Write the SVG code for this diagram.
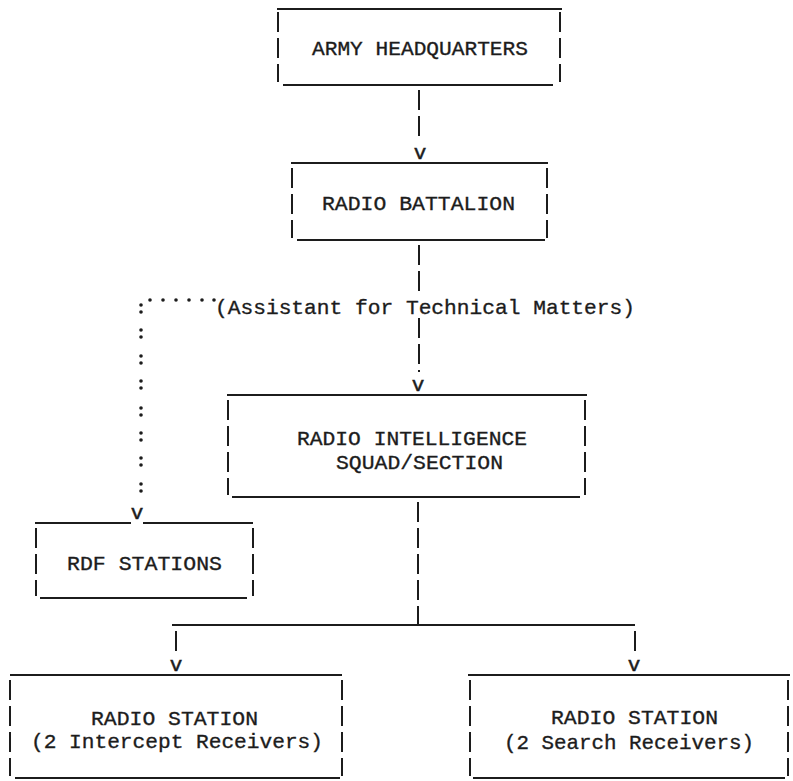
<svg xmlns="http://www.w3.org/2000/svg" width="793" height="781" viewBox="0 0 793 781">
<style>
.h{stroke:#1c1c1c;stroke-width:2;fill:none}
.v{stroke:#1c1c1c;stroke-width:2;fill:none;stroke-dasharray:20 6}
.t{font-family:"Liberation Mono",monospace;font-size:21px;fill:#1c1c1c;stroke:#1c1c1c;stroke-width:0.35}
.a{font-family:"Liberation Mono",monospace;font-size:21px;fill:#1c1c1c;stroke:#1c1c1c;stroke-width:0.5;text-anchor:middle}
.d{fill:#1c1c1c}
</style>
<rect width="793" height="781" fill="#ffffff"/>
<g id="connectors">
<line class="v" x1="419" y1="90" x2="419" y2="137"/>
<text class="a" x="420" y="159">v</text>
<line class="v" x1="419" y1="245" x2="419" y2="294"/>
<line class="v" x1="419" y1="318" x2="419" y2="372"/>
<text class="a" x="418" y="391">v</text>
<g id="dotted">
<circle class="d" cx="150" cy="300" r="1.8"/><circle class="d" cx="163" cy="300" r="1.8"/><circle class="d" cx="176" cy="300" r="1.8"/><circle class="d" cx="189" cy="300" r="1.8"/><circle class="d" cx="202" cy="300" r="1.8"/><circle class="d" cx="214" cy="300" r="1.8"/>
<circle class="d" cx="141" cy="305" r="1.8"/><circle class="d" cx="141" cy="312" r="1.8"/>
<circle class="d" cx="141" cy="330" r="1.8"/><circle class="d" cx="141" cy="337" r="1.8"/>
<circle class="d" cx="141" cy="356" r="1.8"/><circle class="d" cx="141" cy="363" r="1.8"/>
<circle class="d" cx="141" cy="381" r="1.8"/><circle class="d" cx="141" cy="388" r="1.8"/>
<circle class="d" cx="141" cy="408" r="1.8"/><circle class="d" cx="141" cy="415" r="1.8"/>
<circle class="d" cx="141" cy="433" r="1.8"/><circle class="d" cx="141" cy="440" r="1.8"/>
<circle class="d" cx="141" cy="458" r="1.8"/><circle class="d" cx="141" cy="465" r="1.8"/>
<circle class="d" cx="141" cy="484" r="1.8"/><circle class="d" cx="141" cy="491" r="1.8"/>
</g>
<text class="a" x="137" y="519">v</text>
<line class="v" x1="418" y1="502" x2="418" y2="625"/>
<line class="h" x1="172" y1="625" x2="635" y2="625"/>
<line class="h" x1="176" y1="631" x2="176" y2="651"/>
<line class="h" x1="635" y1="631" x2="635" y2="651"/>
<text class="a" x="176" y="671">v</text>
<text class="a" x="634" y="671">v</text>
</g>
<text id="assistant" class="t" x="215" y="314" textLength="420" lengthAdjust="spacingAndGlyphs">(Assistant for Technical Matters)</text>
<g id="army-hq">
<line class="h" x1="277" y1="9" x2="562" y2="9"/>
<line class="h" x1="283" y1="85" x2="553" y2="85"/>
<line class="v" x1="278" y1="12" x2="278" y2="82"/>
<line class="v" x1="560" y1="12" x2="560" y2="82"/>
<text class="t" x="312" y="55" textLength="216" lengthAdjust="spacingAndGlyphs">ARMY HEADQUARTERS</text>
</g>
<g id="radio-battalion">
<line class="h" x1="291" y1="163" x2="548" y2="163"/>
<line class="h" x1="297" y1="240" x2="545" y2="240"/>
<line class="v" x1="292" y1="168" x2="292" y2="238"/>
<line class="v" x1="547" y1="168" x2="547" y2="238"/>
<text class="t" x="322" y="210" textLength="193" lengthAdjust="spacingAndGlyphs">RADIO BATTALION</text>
</g>
<g id="radio-intelligence">
<line class="h" x1="227" y1="395" x2="587" y2="395"/>
<line class="h" x1="232" y1="497" x2="580" y2="497"/>
<line class="v" x1="228" y1="400" x2="228" y2="495"/>
<line class="v" x1="585" y1="400" x2="585" y2="495"/>
<text class="t"><tspan x="297" y="445" textLength="230" lengthAdjust="spacingAndGlyphs">RADIO INTELLIGENCE</tspan><tspan x="336" y="469" textLength="167" lengthAdjust="spacingAndGlyphs">SQUAD/SECTION</tspan></text>
</g>
<g id="rdf-stations">
<line class="h" x1="35" y1="523" x2="131" y2="523"/>
<line class="h" x1="143" y1="523" x2="253" y2="523"/>
<line class="h" x1="40" y1="598" x2="247" y2="598"/>
<line class="v" x1="36" y1="528" x2="36" y2="596"/>
<line class="v" x1="253" y1="528" x2="253" y2="596"/>
<text class="t" x="67" y="570" textLength="155" lengthAdjust="spacingAndGlyphs">RDF STATIONS</text>
</g>
<g id="radio-station-intercept">
<line class="h" x1="10" y1="675" x2="342" y2="675"/>
<line class="h" x1="15" y1="778" x2="340" y2="778"/>
<line class="v" x1="10" y1="680" x2="10" y2="776"/>
<line class="v" x1="342" y1="680" x2="342" y2="776"/>
<text class="t"><tspan x="91" y="725" textLength="167" lengthAdjust="spacingAndGlyphs">RADIO STATION</tspan><tspan x="31" y="748" textLength="292" lengthAdjust="spacingAndGlyphs">(2 Intercept Receivers)</tspan></text>
</g>
<g id="radio-station-search">
<line class="h" x1="468" y1="675" x2="790" y2="675"/>
<line class="h" x1="473" y1="778" x2="785" y2="778"/>
<line class="v" x1="470" y1="680" x2="470" y2="776"/>
<line class="v" x1="788" y1="680" x2="788" y2="776"/>
<text class="t"><tspan x="551" y="724" textLength="167" lengthAdjust="spacingAndGlyphs">RADIO STATION</tspan><tspan x="504" y="749" textLength="250" lengthAdjust="spacingAndGlyphs">(2 Search Receivers)</tspan></text>
</g>
</svg>
